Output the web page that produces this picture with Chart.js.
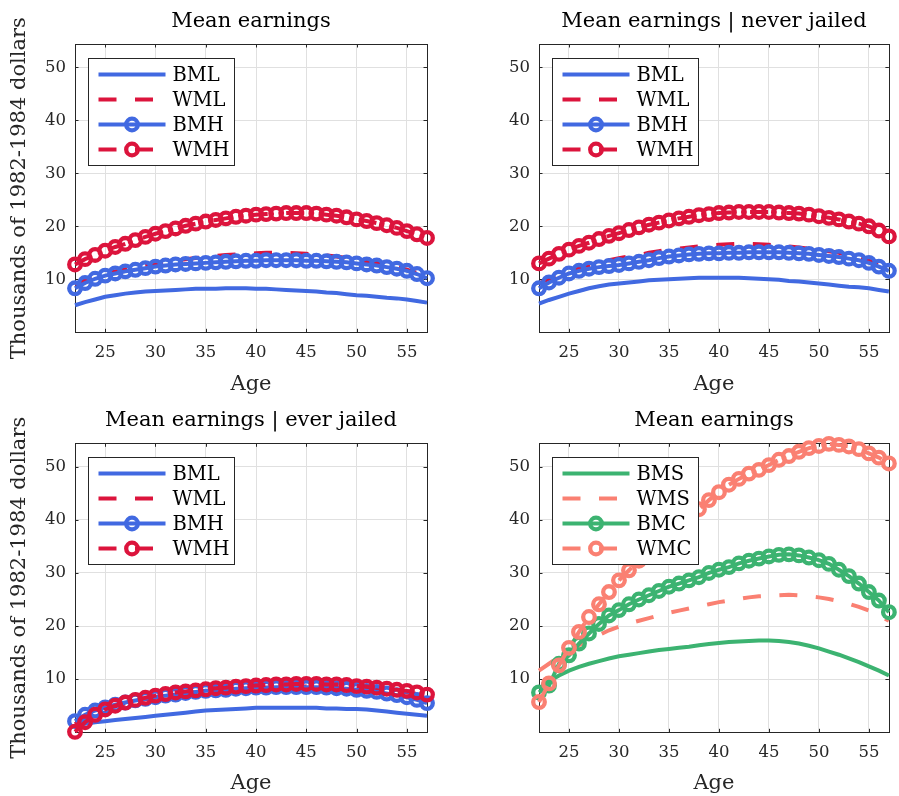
<!DOCTYPE html>
<html>
<head>
<meta charset="utf-8">
<script src="https://cdn.jsdelivr.net/npm/chart.js@4.4.1/dist/chart.umd.min.js"></script>
<style>
  html, body { margin: 0; padding: 0; background: #fff; }
  .panel { position: absolute; }
</style>
</head>
<body>
<div class="panel" style="left:0;top:0"><canvas id="c1" width="449" height="400"></canvas></div>
<div class="panel" style="left:449px;top:0"><canvas id="c2" width="450" height="400"></canvas></div>
<div class="panel" style="left:0;top:400px"><canvas id="c3" width="449" height="396"></canvas></div>
<div class="panel" style="left:449px;top:400px"><canvas id="c4" width="450" height="396"></canvas></div>
<script>
const ages = [22, 23, 24, 25, 26, 27, 28, 29, 30, 31, 32, 33, 34, 35, 36, 37, 38, 39,
  40, 41, 42, 43, 44, 45, 46, 47, 48, 49, 50, 51, 52, 53, 54, 55, 56, 57];
const xTicks = [25, 30, 35, 40, 45, 50, 55];
const yTicks = [10, 20, 30, 40, 50];
const yMax = 54.4;

// Mean earnings
const allBML = [5.1, 5.7, 6.2, 6.7, 7.0, 7.3, 7.5, 7.7, 7.8, 7.9, 8.0, 8.1, 8.2, 8.2, 8.2, 8.3, 8.3, 8.3,
  8.2, 8.2, 8.1, 8.0, 7.9, 7.8, 7.7, 7.5, 7.4, 7.2, 7.0, 6.9, 6.7, 6.5, 6.4, 6.2, 5.9, 5.6];
const allWML = [9.0, 9.8, 10.4, 11.0, 11.5, 11.9, 12.3, 12.6, 12.9, 13.2, 13.5, 13.8, 14.0, 14.2, 14.4, 14.6, 14.7, 14.8,
  14.9, 15.0, 15.0, 15.0, 14.9, 14.8, 14.7, 14.5, 14.3, 14.0, 13.7, 13.4, 13.1, 12.7, 12.3, 11.8, 11.2, 10.6];
const allBMH = [8.3, 9.3, 10.1, 10.7, 11.1, 11.5, 11.8, 12.1, 12.4, 12.6, 12.8, 12.9, 13.0, 13.1, 13.2, 13.3, 13.4, 13.5,
  13.5, 13.6, 13.6, 13.6, 13.6, 13.5, 13.5, 13.4, 13.3, 13.2, 13.0, 12.8, 12.6, 12.3, 12.0, 11.6, 11.0, 10.2];
const allWMH = [12.8, 13.8, 14.6, 15.4, 16.1, 16.7, 17.4, 18.0, 18.6, 19.1, 19.6, 20.1, 20.5, 20.9, 21.2, 21.5, 21.8, 22.0,
  22.2, 22.3, 22.4, 22.5, 22.5, 22.5, 22.4, 22.2, 22.0, 21.7, 21.3, 21.0, 20.6, 20.2, 19.7, 19.1, 18.5, 17.8];

// Mean earnings | never jailed
const neverBML = [5.4, 6.1, 6.7, 7.3, 7.8, 8.3, 8.7, 9.0, 9.2, 9.4, 9.6, 9.8, 9.9, 10.0, 10.1, 10.2, 10.3, 10.3,
  10.3, 10.3, 10.3, 10.2, 10.1, 10.0, 9.9, 9.7, 9.6, 9.4, 9.2, 9.0, 8.8, 8.6, 8.5, 8.3, 8.0, 7.7];
const neverWML = [9.2, 10.1, 10.9, 11.6, 12.2, 12.7, 13.2, 13.6, 14.0, 14.3, 14.6, 15.0, 15.3, 15.6, 15.8, 16.0, 16.2, 16.4,
  16.5, 16.6, 16.7, 16.7, 16.6, 16.5, 16.4, 16.2, 16.0, 15.8, 15.6, 15.3, 15.0, 14.6, 14.1, 13.5, 12.8, 11.9];
const neverBMH = [8.3, 9.4, 10.3, 11.1, 11.6, 12.0, 12.3, 12.5, 12.7, 13.0, 13.3, 13.6, 14.0, 14.3, 14.5, 14.7, 14.8, 14.9,
  14.9, 15.0, 15.0, 15.1, 15.1, 15.1, 15.1, 15.0, 14.9, 14.8, 14.6, 14.4, 14.2, 13.9, 13.6, 13.1, 12.4, 11.6];
const neverWMH = [13.0, 13.9, 14.8, 15.6, 16.3, 16.9, 17.6, 18.2, 18.7, 19.3, 19.8, 20.3, 20.7, 21.1, 21.5, 21.8, 22.1, 22.3,
  22.5, 22.6, 22.7, 22.7, 22.7, 22.7, 22.6, 22.5, 22.4, 22.2, 21.9, 21.6, 21.3, 20.9, 20.5, 20.0, 19.2, 18.1];

// Mean earnings | ever jailed
const everBML = [1.3, 1.6, 1.9, 2.1, 2.3, 2.5, 2.7, 2.9, 3.1, 3.3, 3.5, 3.7, 3.9, 4.1, 4.2, 4.3, 4.4, 4.5,
  4.6, 4.6, 4.6, 4.6, 4.6, 4.6, 4.6, 4.5, 4.5, 4.4, 4.4, 4.3, 4.1, 3.9, 3.7, 3.5, 3.3, 3.1];
const everWML = [1.5, 2.6, 3.5, 4.3, 4.9, 5.4, 5.8, 6.2, 6.5, 6.8, 7.1, 7.3, 7.5, 7.7, 7.9, 8.0, 8.1, 8.2,
  8.3, 8.4, 8.5, 8.5, 8.6, 8.6, 8.6, 8.5, 8.5, 8.4, 8.3, 8.2, 8.0, 7.9, 7.7, 7.5, 7.2, 6.9];
const everBMH = [2.1, 3.3, 4.1, 4.7, 5.2, 5.6, 6.0, 6.3, 6.6, 6.9, 7.1, 7.4, 7.6, 7.8, 7.9, 8.0, 8.2, 8.3,
  8.4, 8.4, 8.5, 8.5, 8.5, 8.5, 8.5, 8.4, 8.3, 8.2, 8.0, 7.8, 7.6, 7.3, 7.0, 6.6, 6.1, 5.5];
const everWMH = [0.1, 1.9, 3.3, 4.3, 5.0, 5.6, 6.1, 6.5, 6.9, 7.2, 7.5, 7.7, 7.9, 8.1, 8.3, 8.4, 8.6, 8.7,
  8.8, 8.9, 9.0, 9.0, 9.1, 9.1, 9.1, 9.0, 9.0, 8.9, 8.7, 8.6, 8.4, 8.2, 8.0, 7.8, 7.5, 7.1];

// Mean earnings (S / C)
const BMS = [8.2, 9.6, 10.7, 11.6, 12.3, 12.9, 13.4, 13.9, 14.3, 14.6, 14.9, 15.2, 15.5, 15.7, 15.9, 16.1, 16.4, 16.6,
  16.8, 17.0, 17.1, 17.2, 17.3, 17.3, 17.2, 17.0, 16.7, 16.3, 15.8, 15.2, 14.6, 13.9, 13.2, 12.4, 11.6, 10.7];
const WMS = [11.6, 12.9, 14.2, 15.2, 16.4, 17.4, 18.3, 19.2, 19.9, 20.5, 21.0, 21.5, 22.0, 22.5, 22.9, 23.3, 23.7, 24.1,
  24.5, 24.8, 25.1, 25.4, 25.6, 25.7, 25.8, 25.9, 25.8, 25.6, 25.4, 25.1, 24.7, 24.2, 23.6, 22.9, 22.0, 21.0];
const BMC = [7.5, 8.8, 12.9, 14.5, 16.7, 18.6, 20.4, 22.0, 23.0, 24.1, 25.0, 25.8, 26.6, 27.4, 28.0, 28.6, 29.2, 30.0,
  30.6, 31.1, 31.8, 32.3, 32.7, 33.1, 33.4, 33.5, 33.3, 32.9, 32.4, 31.7, 30.6, 29.4, 28.0, 26.4, 24.8, 22.6];
const WMC = [5.7, 9.2, 12.6, 15.9, 18.9, 21.7, 24.1, 26.4, 28.6, 30.5, 32.3, 34.1, 35.8, 37.5, 39.0, 40.5, 42.0, 43.7,
  45.2, 46.6, 47.7, 48.7, 49.4, 50.3, 51.3, 52.0, 52.8, 53.5, 53.9, 54.3, 54.1, 53.8, 53.3, 52.5, 51.7, 50.6];

const BLUE = '#4169E1';
const RED = '#DC143C';
const GREEN = '#3CB371';
const SALMON = '#FA8072';
const AXIS = '#262626';
const FONT = "'DejaVu Serif', serif";
const DASH = [18, 18.5];

function series(label, values, color, dashed, marker) {
  return {
    label,
    data: values.map((v, i) => ({ x: ages[i], y: v })),
    borderColor: color,
    borderWidth: 4,
    borderDash: dashed ? DASH : [],
    pointRadius: marker ? 5.8 : 0,
    pointBorderWidth: 4.3,
    pointBorderColor: color,
    pointBackgroundColor: 'rgba(0,0,0,0)',
    pointStyle: 'circle',
    tension: 0,
    fill: false,
    clip: 10
  };
}

// box and inward ticks (MATLAB style)
const framePlugin = {
  id: 'frame',
  beforeDatasetsDraw(chart) {
    const { ctx, chartArea: a, scales } = chart;
    ctx.save();
    ctx.strokeStyle = AXIS;
    ctx.lineWidth = 1;
    ctx.strokeRect(Math.round(a.left) + 0.5, Math.round(a.top) + 0.5,
      Math.round(a.right - a.left), Math.round(a.bottom - a.top));
    const tl = 3.5;
    ctx.beginPath();
    xTicks.forEach(t => {
      const px = Math.round(scales.x.getPixelForValue(t)) + 0.5;
      ctx.moveTo(px, a.bottom); ctx.lineTo(px, a.bottom - tl);
      ctx.moveTo(px, a.top); ctx.lineTo(px, a.top + tl);
    });
    yTicks.forEach(t => {
      const py = Math.round(scales.y.getPixelForValue(t)) + 0.5;
      ctx.moveTo(a.left, py); ctx.lineTo(a.left + tl, py);
      ctx.moveTo(a.right, py); ctx.lineTo(a.right - tl, py);
    });
    ctx.stroke();
    ctx.restore();
  }
};

// title centred over the plot box, not the canvas
const titlePlugin = {
  id: 'boxTitle',
  afterDraw(chart, args, opts) {
    const { ctx, chartArea: a } = chart;
    ctx.save();
    ctx.fillStyle = '#000';
    ctx.font = "21px " + FONT;
    ctx.textAlign = 'center';
    ctx.textBaseline = 'middle';
    ctx.fillText(opts.text, (a.left + a.right) / 2, opts.y);
    ctx.restore();
  }
};

const legendPlugin = {
  id: 'boxLegend',
  afterDatasetsDraw(chart) {
    const { ctx, chartArea: a } = chart;
    const bx = Math.round(a.left + 13) + 0.5;
    const by = Math.round(a.top + 14) + 0.5;
    const bw = 146, bh = 107;
    ctx.save();
    ctx.fillStyle = '#fff';
    ctx.fillRect(bx, by, bw, bh);
    ctx.strokeStyle = AXIS;
    ctx.lineWidth = 1;
    ctx.strokeRect(bx, by, bw, bh);
    chart.data.datasets.forEach((ds, i) => {
      const y = by + 16 + i * 25;
      const x0 = bx + 10, x1 = bx + 77;
      ctx.strokeStyle = ds.borderColor;
      ctx.lineWidth = ds.borderWidth;
      ctx.setLineDash(ds.borderDash);
      ctx.beginPath();
      ctx.moveTo(x0, y); ctx.lineTo(x1, y);
      ctx.stroke();
      ctx.setLineDash([]);
      if (ds.pointRadius > 0) {
        ctx.beginPath();
        ctx.arc((x0 + x1) / 2, y, ds.pointRadius, 0, Math.PI * 2);
        ctx.lineWidth = ds.pointBorderWidth;
        ctx.stroke();
      }
      ctx.fillStyle = '#000';
      ctx.font = "19.5px " + FONT;
      ctx.textBaseline = 'middle';
      ctx.textAlign = 'left';
      ctx.fillText(ds.label, bx + 84, y + 1);
    });
    ctx.restore();
  }
};

function makePanel(id, title, datasets, leftCol, topRow) {
  const yWidth = leftCol ? 75 : 90;
  const padRight = leftCol ? 22 : 6;
  const padTop = topRow ? 44 : 43.3;
  const xHeight = topRow ? 400 - 44 - 288.3 : 396 - 43.3 - 289;
  datasets.forEach((d, i) => { d.order = datasets.length - 1 - i; });
  return new Chart(document.getElementById(id), {
    type: 'line',
    data: { datasets },
    options: {
      responsive: false,
      animation: false,
      events: [],
      layout: { padding: { left: 0, right: padRight, top: padTop, bottom: 0 } },
      plugins: {
        legend: { display: false },
        tooltip: { enabled: false },
        title: { display: false },
        boxTitle: { text: title, y: topRow ? 22 : 20.7 }
      },
      scales: {
        x: {
          type: 'linear',
          min: 22,
          max: 57,
          afterBuildTicks: s => { s.ticks = xTicks.map(v => ({ value: v })); },
          afterFit: s => { s.height = xHeight; },
          border: { display: false },
          grid: { color: '#e0e0e0', lineWidth: 1, drawTicks: false },
          ticks: {
            color: AXIS,
            padding: topRow ? 10.8 : 10.5,
            maxRotation: 0,
            font: { family: FONT, size: 16.5, lineHeight: 1.2 }
          },
          title: {
            display: true,
            text: 'Age',
            color: AXIS,
            font: { family: FONT, size: 21, lineHeight: 1 },
            padding: { top: 0, bottom: topRow ? 4.5 : 1.5 }
          }
        },
        y: {
          type: 'linear',
          min: 0,
          max: yMax,
          afterBuildTicks: s => { s.ticks = yTicks.map(v => ({ value: v })); },
          afterFit: s => { s.width = yWidth; },
          border: { display: false },
          grid: { color: '#e0e0e0', lineWidth: 1, drawTicks: false },
          ticks: {
            color: AXIS,
            padding: 9,
            font: { family: FONT, size: 16.5, lineHeight: 1.2 }
          },
          title: {
            display: leftCol,
            text: 'Thousands of 1982-1984 dollars',
            color: AXIS,
            font: { family: FONT, size: 21, lineHeight: 1 },
            padding: { top: 9.5, bottom: 0 }
          }
        }
      }
    },
    plugins: [framePlugin, legendPlugin, titlePlugin]
  });
}

makePanel('c1', 'Mean earnings', [
  series('BML', allBML, BLUE, false, false),
  series('WML', allWML, RED, true, false),
  series('BMH', allBMH, BLUE, false, true),
  series('WMH', allWMH, RED, true, true)
], true, true);

makePanel('c2', 'Mean earnings | never jailed', [
  series('BML', neverBML, BLUE, false, false),
  series('WML', neverWML, RED, true, false),
  series('BMH', neverBMH, BLUE, false, true),
  series('WMH', neverWMH, RED, true, true)
], false, true);

makePanel('c3', 'Mean earnings | ever jailed', [
  series('BML', everBML, BLUE, false, false),
  series('WML', everWML, RED, true, false),
  series('BMH', everBMH, BLUE, false, true),
  series('WMH', everWMH, RED, true, true)
], true, false);

makePanel('c4', 'Mean earnings', [
  series('BMS', BMS, GREEN, false, false),
  series('WMS', WMS, SALMON, true, false),
  series('BMC', BMC, GREEN, false, true),
  series('WMC', WMC, SALMON, true, true)
], false, false);
</script>
</body>
</html>
